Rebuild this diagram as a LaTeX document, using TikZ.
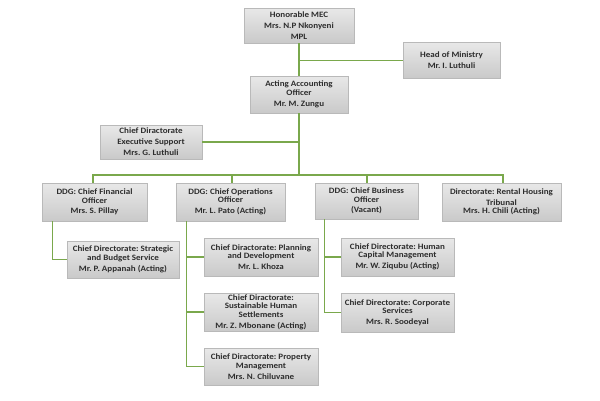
\documentclass[tikz,border=0pt]{standalone}
\usepackage{fontspec}
\setmainfont{Carlito}[FakeStretch=1.1]
\definecolor{lineg}{RGB}{122,168,76}
\definecolor{txt}{RGB}{45,45,45}
\begin{document}
\frenchspacing
\begin{tikzpicture}[x=1pt,y=-1pt,
  orgbox/.style 2 args={draw=gray!55, line width=0.4pt, top color=gray!18, bottom color=gray!42,
     minimum width=#1, minimum height=#2, inner xsep=1pt, inner ysep=1pt, align=center,
     font=\bfseries\fontsize{8.2}{8.5}\selectfont, text=txt},
  conn/.style={draw=lineg, line width=1.3pt},
  trunkline/.style={draw=lineg, line width=2.6pt}]
\useasboundingbox (0,0) rectangle (600,400);
\fill[white] (0,0) rectangle (600,400);

\node[orgbox={110pt}{35pt}] (mec) at (299,25.5) {Honorable MEC\\[2.4pt]Mrs. N.P Nkonyeni\\[2.4pt]MPL};
\node[orgbox={97pt}{36pt}] (head) at (451.5,60) {Head of Ministry\\[2.4pt]Mr. I. Luthuli};
\node[orgbox={98pt}{37pt}] (acting) at (299,94.5) {Acting Accounting\\Officer\\[2.4pt]Mr. M. Zungu};
\node[orgbox={102pt}{34pt}] (exec) at (151,142) {Chief Diractorate\\[2.4pt]Executive Support\\[2.4pt]Mrs. G. Luthuli};

\node[orgbox={105pt}{38pt}] (cfo) at (94.5,202) {DDG: Chief Financial\\Officer\\[2.4pt]Mrs. S. Pillay};
\node[orgbox={109pt}{38pt}] (coo) at (230.5,202) {DDG: Chief Operations\\Officer\\[2.4pt]Mr. L. Pato (Acting)};
\node[orgbox={103pt}{36pt}] (cbo) at (366.5,201) {DDG: Chief Business\\Officer\\[2.4pt](Vacant)};
\node[orgbox={119pt}{38pt}] (rental) at (501.5,202) {Directorate: Rental Housing\\[2.4pt]Tribunal\\Mrs. H. Chili (Acting)};

\node[orgbox={112pt}{37pt}] (strat) at (123,259.5) {Chief Directorate: Strategic\\and Budget Service\\[2.4pt]Mr. P. Appanah (Acting)};
\node[orgbox={114pt}{38pt}] (plan) at (261,257) {Chief Diractorate: Planning\\and Development\\[2.4pt]Mr. L. Khoza};
\node[orgbox={114pt}{38pt}] (sust) at (261,312) {Chief Diractorate:\\Sustainable Human\\Settlements\\[2.4pt]Mr. Z. Mbonane (Acting)};
\node[orgbox={114pt}{37pt}] (prop) at (261,366.5) {Chief Diractorate: Property\\Management\\[2.4pt]Mrs. N. Chiluvane};
\node[orgbox={113pt}{38pt}] (hcm) at (397.5,257) {Chief Directorate: Human\\Capital Management\\[2.4pt]Mr. W. Ziqubu (Acting)};
\node[orgbox={113pt}{39pt}] (corp) at (397.5,312.5) {Chief Directorate: Corporate\\Services\\[2.4pt]Mrs. R. Soodeyal};

% trunk
\coordinate (bus) at (299,175);
\draw[trunkline] (mec.south) -- (acting.north);
\draw[trunkline] (acting.south) -- (bus);
\draw[conn, line width=1pt] (head.west) -- (head.west -| mec.south);
\draw[conn] (exec.east) -- (exec.east -| acting.south);

% bus to DDGs
\draw[conn] ([xshift=-1.5pt]cfo.north) |- (bus) -| ([xshift=1.5pt]rental.north);
\draw[conn] ([xshift=1.5pt]coo.north) -- ([xshift=1.5pt]coo.north |- bus);
\draw[conn] ([xshift=0.5pt]cbo.north) -- ([xshift=0.5pt]cbo.north |- bus);

% CFO
\coordinate (cfos) at ([xshift=11pt]cfo.south west);
\draw[conn] (cfos) |- (strat.west);

% COO
\coordinate (coos) at ([xshift=11pt]coo.south west);
\draw[conn] (coos) |- (prop.west);
\draw[conn] (coos |- plan.west) -- (plan.west);
\draw[conn] (coos |- sust.west) -- (sust.west);

% CBO
\coordinate (cbos) at ([xshift=10pt]cbo.south west);
\draw[conn] (cbos) |- (corp.west);
\draw[conn] (cbos |- hcm.west) -- (hcm.west);
\end{tikzpicture}
\end{document}
